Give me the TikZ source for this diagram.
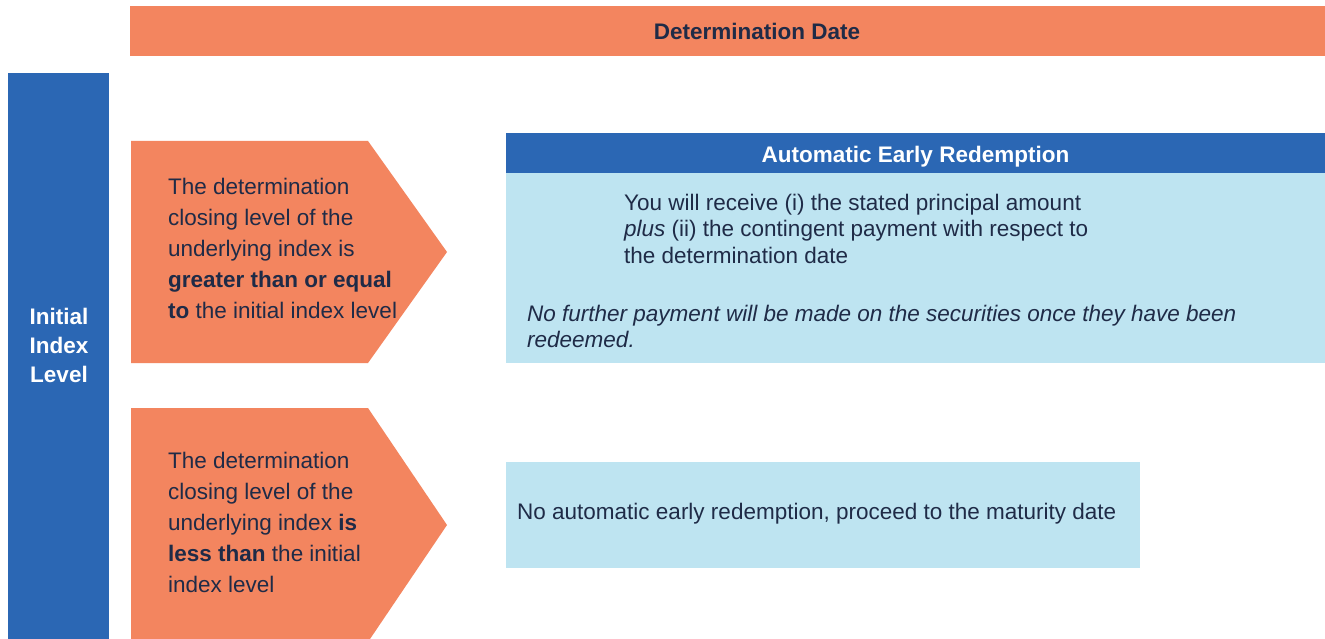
\documentclass[tikz,border=0pt]{standalone}
\usepackage{fontspec}
\setmainfont{Liberation Sans}

\definecolor{salmon}{HTML}{F3855F}
\definecolor{royal}{HTML}{2B67B4}
\definecolor{pale}{HTML}{BEE4F1}
\definecolor{ink}{HTML}{1F2B47}

\begin{document}
\begin{tikzpicture}[x=1pt, y=-1pt,
        txt/.style={font=\fontsize{22.5}{31}\selectfont, text=ink, inner sep=0pt, align=left, anchor=west},
        bodytxt/.style={txt, font=\fontsize{22.5}{26.5}\selectfont},
        headtxt/.style={font=\fontsize{22.5}{29}\selectfont\bfseries, inner sep=0pt, align=center}]
            \clip (0, 0) rectangle (1325, 639);

            \fill[white] (0, 0) rectangle (1325, 639);

            % top bar
            \fill[salmon] (130, 6) rectangle (1325, 56);
            \node[headtxt, text=ink] (date) at (757, 31) {Determination Date};

            % left bar
            \fill[royal] (8, 73) rectangle (109, 645);
            \node[headtxt, text=white] (initial) at (59, 345) {Initial\\Index\\Level};

            % arrows
            \fill[salmon] (131, 141) -- (368, 141) -- (447, 252) -- (368, 363) -- (131, 363) -- cycle;
            \fill[salmon] (131, 408) -- (368, 408) -- (447, 525) -- (368, 642) -- (131, 642) -- cycle;

            \node[txt] (above) at (168, 248) {The determination\\closing level of the\\underlying index is\\\textbf{greater than or equal}\\\textbf{to} the initial index level};

            \node[txt] (below) at (168, 522) {The determination\\closing level of the\\underlying index \textbf{is}\\\textbf{less than} the initial\\index level};

            % redemption box
            \fill[royal] (506, 133) rectangle (1325, 173);
            \fill[pale] (506, 173) rectangle (1325, 363);
            \node[headtxt, text=white] (early) at (915.5, 157) {Automatic Early Redemption};

            \node[bodytxt] (receive) at (624, 228.5) {You will receive (i) the stated principal amount\\\textit{plus} (ii) the contingent payment with respect to\\the determination date};

            \node[bodytxt, font=\fontsize{22.5}{26.5}\selectfont\itshape] (further) at (527, 326.5) {No further payment will be made on the securities once they have been\\redeemed.};

            % maturity box
            \fill[pale] (506, 462) rectangle (1140, 568);
            \node[txt] (maturity) at (517, 514) {No automatic early redemption, proceed to the maturity date};
        \end{tikzpicture}
\end{document}
